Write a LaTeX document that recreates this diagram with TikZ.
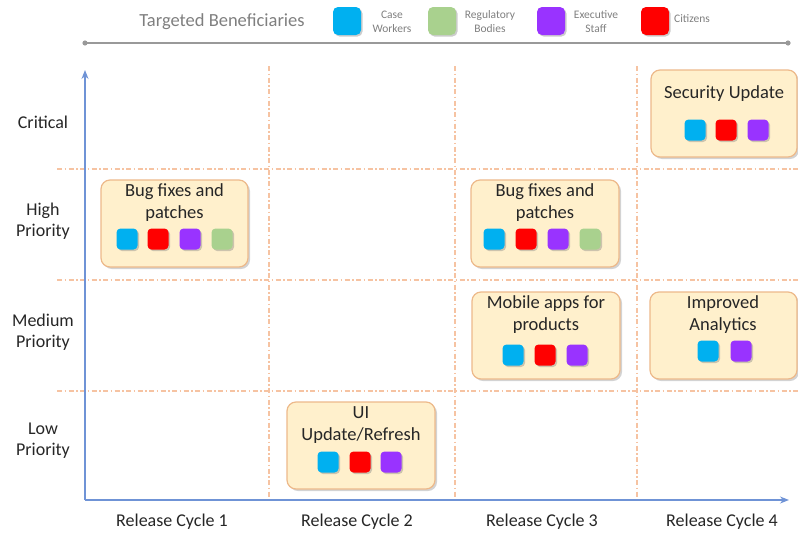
\documentclass[tikz,border=0pt]{standalone}
\usepackage{fontspec}
\setmainfont{Carlito}
\usetikzlibrary{shadows,arrows.meta}
\definecolor{cblue}{HTML}{00B0F0}
\definecolor{cred}{HTML}{FF0000}
\definecolor{cpurple}{HTML}{9933FF}
\definecolor{cgreen}{HTML}{A9D18E}
\definecolor{boxfill}{HTML}{FFF0CC}
\definecolor{boxline}{HTML}{EDB98A}
\definecolor{gridc}{HTML}{F6C3A2}
\definecolor{axisc}{HTML}{6F93D6}
\definecolor{txt}{HTML}{262626}
\definecolor{legtxt}{HTML}{7F7F7F}
\tikzset{
  card/.style={draw=boxline, line width=1.2pt, fill=boxfill, rounded corners=9pt, drop shadow={opacity=0.35, shadow xshift=2pt, shadow yshift=-2pt}},
  sq/.style={minimum size=21pt, inner sep=0pt, rounded corners=4pt, drop shadow={opacity=0.4, shadow xshift=1.5pt, shadow yshift=-1.5pt}},
  lsq/.style={minimum size=28pt, inner sep=0pt, rounded corners=5pt, drop shadow={opacity=0.4, shadow xshift=1.5pt, shadow yshift=-1.5pt}},
  cardtext/.style={text=txt, align=center, font=\fontsize{18.5}{22}\selectfont},
  axislabel/.style={text=txt, align=center, font=\fontsize{18}{21}\selectfont},
  legtext/.style={text=legtxt, align=center, font=\fontsize{11.5}{14}\selectfont},
  gridline/.style={draw=gridc, line width=1.2pt, dash pattern=on 5pt off 2.5pt on 1.5pt off 2.5pt},
  axis/.style={draw=axisc, line width=1.3pt, -{Stealth[length=9pt,width=7pt]}},
}
\begin{document}
\begin{tikzpicture}[x=1pt,y=-1pt]
\useasboundingbox (0,0) rectangle (798,536);
% legend
\node[text=legtxt, font=\fontsize{18.5}{20}\selectfont] (legtitle) at (222,22) {Targeted Beneficiaries};
\node[lsq, fill=cblue] (lb) at (347,21) {};
\node[legtext] (lbt) at (392,22) {Case\\Workers};
\node[lsq, fill=cgreen] (lg) at (442,21) {};
\node[legtext] (lgt) at (490,22) {Regulatory\\Bodies};
\node[lsq, fill=cpurple] (lp) at (551,21) {};
\node[legtext] (lpt) at (596,22) {Executive\\Staff};
\node[lsq, fill=cred] (lr) at (655,21) {};
\node[legtext] (lrt) at (692,19) {Citizens};
\coordinate (ll) at (85,43);
\coordinate (lr2) at (788,43);
\draw[draw=gray!80, line width=1.3pt] (ll) -- (lr2);
\fill[gray!80] (ll) circle (2.6pt) (lr2) circle (2.6pt);
% grid
\foreach \y in {169,280,391} \draw[gridline] (57,\y) -- (798,\y);
\foreach \x in {269,455,637} \draw[gridline] (\x,66) -- (\x,500);
% axes
\coordinate (o) at (85,500);
\coordinate (ytop) at (85,70);
\coordinate (xend) at (789,500);
\draw[axis] (o) -- (ytop);
\draw[axis] (o) -- (xend);
% axis labels
\node[axislabel] (r1) at (43,122) {Critical};
\node[axislabel] (r2) at (43,221) {High\\Priority};
\node[axislabel] (r3) at (43,332) {Medium\\Priority};
\node[axislabel] (r4) at (43,441) {Low\\Priority};
\node[axislabel] (c1) at (172,522) {Release Cycle 1};
\node[axislabel] (c2) at (357,522) {Release Cycle 2};
\node[axislabel] (c3) at (542,522) {Release Cycle 3};
\node[axislabel] (c4) at (722,522) {Release Cycle 4};
% card 1
\draw[card] (101,180) rectangle (248,267);
\node[cardtext] (t1) at (174.5,203) {Bug fixes and\\patches};
\node[sq, fill=cblue] (s11) at (127,239) {};
\node[sq, fill=cred] (s12) at (158,239) {};
\node[sq, fill=cpurple] (s13) at (190,239) {};
\node[sq, fill=cgreen] (s14) at (222,239) {};
% card 2
\draw[card] (471,180) rectangle (619,267);
\node[cardtext] (t2) at (545,203) {Bug fixes and\\patches};
\node[sq, fill=cblue] (s21) at (494,239) {};
\node[sq, fill=cred] (s22) at (526,239) {};
\node[sq, fill=cpurple] (s23) at (558,239) {};
\node[sq, fill=cgreen] (s24) at (590,239) {};
% card 3 security
\draw[card] (651,70) rectangle (797,157);
\node[cardtext] (t3) at (724,94) {Security Update};
\node[sq, fill=cblue] (s31) at (695,130) {};
\node[sq, fill=cred] (s32) at (726,130) {};
\node[sq, fill=cpurple] (s33) at (758,130) {};
% card 4 mobile
\draw[card] (472,292) rectangle (620,379);
\node[cardtext] (t4) at (546,315) {Mobile apps for\\products};
\node[sq, fill=cblue] (s41) at (513,355) {};
\node[sq, fill=cred] (s42) at (545,355) {};
\node[sq, fill=cpurple] (s43) at (577,355) {};
% card 5 analytics
\draw[card] (650,292) rectangle (797,379);
\node[cardtext] (t5) at (723,315) {Improved\\Analytics};
\node[sq, fill=cblue] (s51) at (708,351) {};
\node[sq, fill=cpurple] (s52) at (741,351) {};
% card 6 UI
\draw[card] (287,402) rectangle (435,489);
\node[cardtext] (t6) at (361,425) {UI\\Update/Refresh};
\node[sq, fill=cblue] (s61) at (328,462) {};
\node[sq, fill=cred] (s62) at (360,462) {};
\node[sq, fill=cpurple] (s63) at (391,462) {};
\end{tikzpicture}
\end{document}
